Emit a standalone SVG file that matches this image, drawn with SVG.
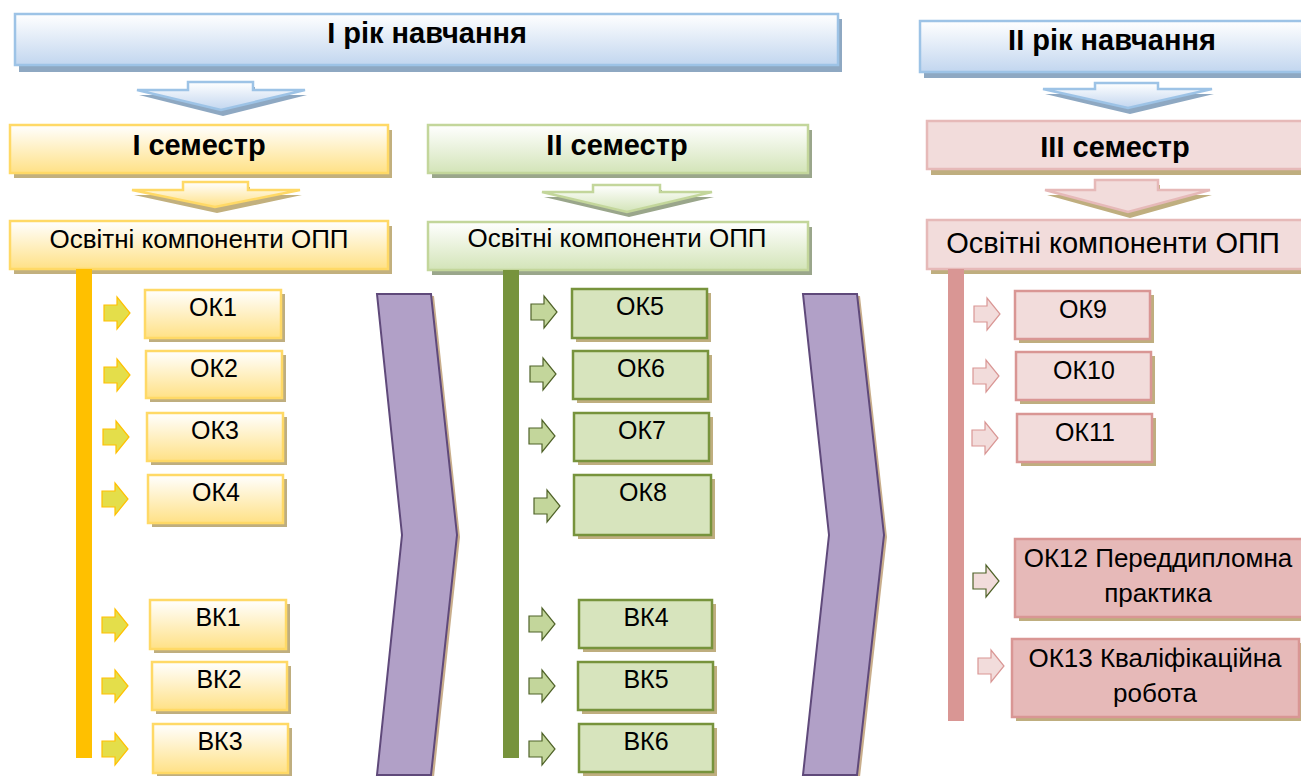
<svg xmlns="http://www.w3.org/2000/svg" width="1301" height="776" viewBox="0 0 1301 776">
<defs>
<linearGradient id="gBlue" x1="0" y1="0" x2="0" y2="1"><stop offset="0" stop-color="#FFFFFF"/><stop offset="1" stop-color="#C2D6EF"/></linearGradient>
<linearGradient id="gYel" x1="0" y1="0" x2="0" y2="1"><stop offset="0" stop-color="#FFFFFF"/><stop offset="1" stop-color="#FFE186"/></linearGradient>
<linearGradient id="gGrn" x1="0" y1="0" x2="0" y2="1"><stop offset="0" stop-color="#FFFFFF"/><stop offset="1" stop-color="#D3E4B8"/></linearGradient>
<style>
text{font-family:"Liberation Sans",Arial,sans-serif;fill:#000;text-anchor:middle}
.t{font-size:29px;font-weight:bold}
.s{font-size:26px}
.s3{font-size:29px}
.k{font-size:25px}
.k2{font-size:26px}
.blue{fill:url(#gBlue);stroke:#9DC3E6;stroke-width:2.5}
.blueSh{fill:#8EA8C2}
.yel{fill:url(#gYel);stroke:#FFD966;stroke-width:2.5}
.yelSh{fill:#C2B07E}
.grn{fill:url(#gGrn);stroke:#C3D69B;stroke-width:2.5}
.grnSh{fill:#9AA68B}
.pnk{fill:#F2DCDB;stroke:#E6B9B8;stroke-width:2.5}
.tan{fill:#BFAE7F}
.gbox{fill:#D7E4BD;stroke:#77933C;stroke-width:2.5}
.pbox{fill:#F2DCDB;stroke:#D99694;stroke-width:2.5}
.pbox2{fill:#E6B9B8;stroke:#D99694;stroke-width:2.5}
.ya{fill:#E4DE4A;stroke:#FFC000;stroke-width:1.2}
.ga{fill:#C3D69B;stroke:#4F6228;stroke-width:1.2}
.pa{fill:#F2DCDB;stroke:#D99694;stroke-width:1.2}
.pag{fill:#F2DCDB;stroke:#4F6228;stroke-width:1.2}
.chev{fill:#B1A0C7;stroke:#5F497A;stroke-width:2}
.chevSh{fill:#C9AE8C}
</style>
</defs>
<rect width="1301" height="776" fill="#FFFFFF"/>

<!-- Year headers -->
<g id="year1">
<rect class="blueSh" x="19" y="19" width="823" height="53"/>
<rect class="blue" x="15" y="14" width="823" height="51"/>
<text class="t" x="427" y="43">І рік навчання</text>
</g>
<g id="year2">
<rect class="blueSh" x="924" y="26" width="390" height="52"/>
<rect class="blue" x="920" y="21" width="390" height="51"/>
<text class="t" x="1112" y="50">ІІ рік навчання</text>
</g>

<!-- Semester headers -->
<g id="sem1">
<rect class="yelSh" x="14" y="130" width="378" height="48"/>
<rect class="yel" x="10" y="125" width="378" height="48"/>
<text class="t" x="199" y="155">І семестр</text>
</g>
<g id="sem2">
<rect class="grnSh" x="432" y="130" width="380" height="48"/>
<rect class="grn" x="428" y="125" width="380" height="48"/>
<text class="t" x="617" y="155">ІІ семестр</text>
</g>
<g id="sem3">
<rect class="tan" x="931" y="126" width="390" height="49"/>
<rect class="pnk" x="927" y="121" width="390" height="48"/>
<text class="t" x="1115" y="157">ІІІ семестр</text>
</g>

<!-- Components headers -->
<g id="comp1">
<rect class="yelSh" x="14" y="226" width="378" height="48"/>
<rect class="yel" x="10" y="221" width="378" height="48"/>
<text class="s" x="199" y="248">Освітні компоненти ОПП</text>
</g>
<g id="comp2">
<rect class="grnSh" x="432" y="227" width="380" height="48"/>
<rect class="grn" x="428" y="222" width="380" height="48"/>
<text class="s" x="617" y="247">Освітні компоненти ОПП</text>
</g>
<g id="comp3">
<rect class="tan" x="931" y="225" width="390" height="49"/>
<rect class="pnk" x="927" y="220" width="390" height="49"/>
<text class="s3" x="1113" y="253">Освітні компоненти ОПП</text>
</g>

<!-- Column 1 items -->
<g id="ok1"><rect class="tan" x="149" y="294" width="136" height="48"/><rect class="yel" x="145" y="290" width="136" height="48"/><text class="k" x="213" y="316">ОК1</text></g>
<g id="ok2"><rect class="tan" x="150" y="355" width="136" height="47"/><rect class="yel" x="146" y="351" width="136" height="47"/><text class="k" x="214" y="377">ОК2</text></g>
<g id="ok3"><rect class="tan" x="151" y="417" width="136" height="48"/><rect class="yel" x="147" y="413" width="136" height="48"/><text class="k" x="215" y="439">ОК3</text></g>
<g id="ok4"><rect class="tan" x="152" y="479" width="135" height="48"/><rect class="yel" x="148" y="475" width="135" height="48"/><text class="k" x="216" y="501">ОК4</text></g>
<g id="vk1"><rect class="tan" x="154" y="604" width="136" height="49"/><rect class="yel" x="150" y="600" width="136" height="49"/><text class="k" x="218" y="626">ВК1</text></g>
<g id="vk2"><rect class="tan" x="156" y="666" width="135" height="48"/><rect class="yel" x="152" y="662" width="135" height="48"/><text class="k" x="219" y="688">ВК2</text></g>
<g id="vk3"><rect class="tan" x="157" y="728" width="135" height="49"/><rect class="yel" x="153" y="724" width="135" height="49"/><text class="k" x="220" y="750">ВК3</text></g>

<!-- Column 2 items -->
<g id="ok5"><rect class="tan" x="576" y="293" width="135" height="49"/><rect class="gbox" x="572" y="289" width="135" height="49"/><text class="k" x="640" y="315">ОК5</text></g>
<g id="ok6"><rect class="tan" x="577" y="355" width="135" height="48"/><rect class="gbox" x="573" y="351" width="135" height="48"/><text class="k" x="641" y="377">ОК6</text></g>
<g id="ok7"><rect class="tan" x="578" y="417" width="135" height="48"/><rect class="gbox" x="574" y="413" width="135" height="48"/><text class="k" x="642" y="439">ОК7</text></g>
<g id="ok8"><rect class="tan" x="578" y="479" width="137" height="60"/><rect class="gbox" x="574" y="475" width="137" height="60"/><text class="k" x="643" y="501">ОК8</text></g>
<g id="vk4"><rect class="tan" x="583" y="604" width="133" height="48"/><rect class="gbox" x="579" y="600" width="133" height="48"/><text class="k" x="646" y="626">ВК4</text></g>
<g id="vk5"><rect class="tan" x="582" y="666" width="135" height="48"/><rect class="gbox" x="578" y="662" width="135" height="48"/><text class="k" x="646" y="688">ВК5</text></g>
<g id="vk6"><rect class="tan" x="583" y="728" width="134" height="48"/><rect class="gbox" x="579" y="724" width="134" height="48"/><text class="k" x="646" y="750">ВК6</text></g>

<!-- Column 3 items -->
<g id="ok9"><rect class="tan" x="1019" y="295" width="135" height="48"/><rect class="pbox" x="1015" y="291" width="135" height="48"/><text class="k" x="1083" y="318">ОК9</text></g>
<g id="ok10"><rect class="tan" x="1020" y="356" width="135" height="48"/><rect class="pbox" x="1016" y="352" width="135" height="48"/><text class="k" x="1084" y="379">ОК10</text></g>
<g id="ok11"><rect class="tan" x="1021" y="418" width="135" height="48"/><rect class="pbox" x="1017" y="414" width="135" height="48"/><text class="k" x="1085" y="441">ОК11</text></g>
<g id="ok12"><rect class="tan" x="1019" y="543" width="300" height="78"/><rect class="pbox2" x="1015" y="539" width="300" height="78"/><text class="k2" x="1158" y="567">ОК12 Переддипломна</text><text class="k2" x="1158" y="602">практика</text></g>
<g id="ok13"><rect class="tan" x="1016" y="643" width="288" height="78"/><rect class="pbox2" x="1012" y="639" width="287" height="78"/><text class="k2" x="1155" y="667">ОК13 Кваліфікаційна</text><text class="k2" x="1155" y="702">робота</text></g>

<!-- Connectors -->
<g id="connectors">
<!-- big down arrows -->
<polygon class="blueSh" points="190,87 255,87 255,95 307,95 223,116 139,95 190,95"/>
<polygon class="blue" stroke-width="1.5" points="188,82 253,82 253,90 305,90 221,110 137,90 188,90"/>
<polygon class="yelSh" points="185,187 250,187 250,195 302,195 217,213 134,195 185,195"/>
<polygon class="yel" stroke-width="1.5" points="183,182 248,182 248,190 300,190 215,207 132,190 183,190"/>
<polygon class="grnSh" points="595,190 662,190 662,197 714,197 629,217 544,197 595,197"/>
<polygon class="grn" stroke-width="1.5" points="593,185 660,185 660,192 712,192 627,212 542,192 593,192"/>
<polygon class="blueSh" points="1097,88 1160,88 1160,94 1214,94 1130,114 1045,94 1097,94"/>
<polygon class="blue" stroke-width="1.5" points="1095,83 1158,83 1158,89 1212,89 1128,108 1043,89 1095,89"/>
<polygon class="tan" points="1097,185 1160,185 1160,195 1212,195 1130,218 1047,195 1097,195"/>
<polygon class="pnk" stroke-width="1.5" points="1095,180 1158,180 1158,190 1210,190 1128,212 1045,190 1095,190"/>

<!-- vertical bars -->
<rect x="76" y="269" width="16" height="489" fill="#FFC000"/>
<rect x="503" y="270" width="16" height="488" fill="#77933C"/>
<rect x="948" y="269" width="16" height="452" fill="#D99694"/>

<!-- chevrons -->
<polygon class="chevSh" points="380,296 434,296 460,537 434,777 380,777 405,537"/>
<polygon class="chev" points="377,294 431,294 457,535 431,775 377,775 402,535"/>
<polygon class="chevSh" points="806,296 860,296 887,537 860,777 806,777 832,537"/>
<polygon class="chev" points="803,294 857,294 884,535 857,775 803,775 829,535"/>

<!-- small arrows col1 -->
<polygon class="ya" points="104,305 117,305 117,297 130,313 117,329 117,321 104,321"/>
<polygon class="ya" points="104,367 117,367 117,359 130,375 117,391 117,383 104,383"/>
<polygon class="ya" points="103,429 116,429 116,421 129,437 116,453 116,445 103,445"/>
<polygon class="ya" points="102,491 115,491 115,483 128,499 115,515 115,507 102,507"/>
<polygon class="ya" points="102,617 115,617 115,609 128,625 115,641 115,633 102,633"/>
<polygon class="ya" points="102,678 115,678 115,670 128,686 115,702 115,694 102,694"/>
<polygon class="ya" points="102,741 115,741 115,733 128,749 115,765 115,757 102,757"/>

<!-- small arrows col2 -->
<polygon class="ga" points="531,304 544,304 544,296 557,312 544,328 544,320 531,320"/>
<polygon class="ga" points="530,366 543,366 543,358 556,374 543,390 543,382 530,382"/>
<polygon class="ga" points="529,428 542,428 542,420 555,436 542,452 542,444 529,444"/>
<polygon class="ga" points="534,498 547,498 547,490 560,506 547,522 547,514 534,514"/>
<polygon class="ga" points="529,616 542,616 542,608 555,624 542,640 542,632 529,632"/>
<polygon class="ga" points="529,678 542,678 542,670 555,686 542,702 542,694 529,694"/>
<polygon class="ga" points="529,741 542,741 542,733 555,749 542,765 542,757 529,757"/>

<!-- small arrows col3 -->
<polygon class="pa" points="974,306 987,306 987,298 1000,314 987,330 987,322 974,322"/>
<polygon class="pa" points="973,368 986,368 986,360 999,376 986,392 986,384 973,384"/>
<polygon class="pa" points="972,430 985,430 985,422 998,438 985,454 985,446 972,446"/>
<polygon class="pag" points="973,573 986,573 986,565 999,581 986,597 986,589 973,589"/>
<polygon class="pa" points="978,658 991,658 991,650 1004,666 991,682 991,674 978,674"/>
</g>
</svg>
